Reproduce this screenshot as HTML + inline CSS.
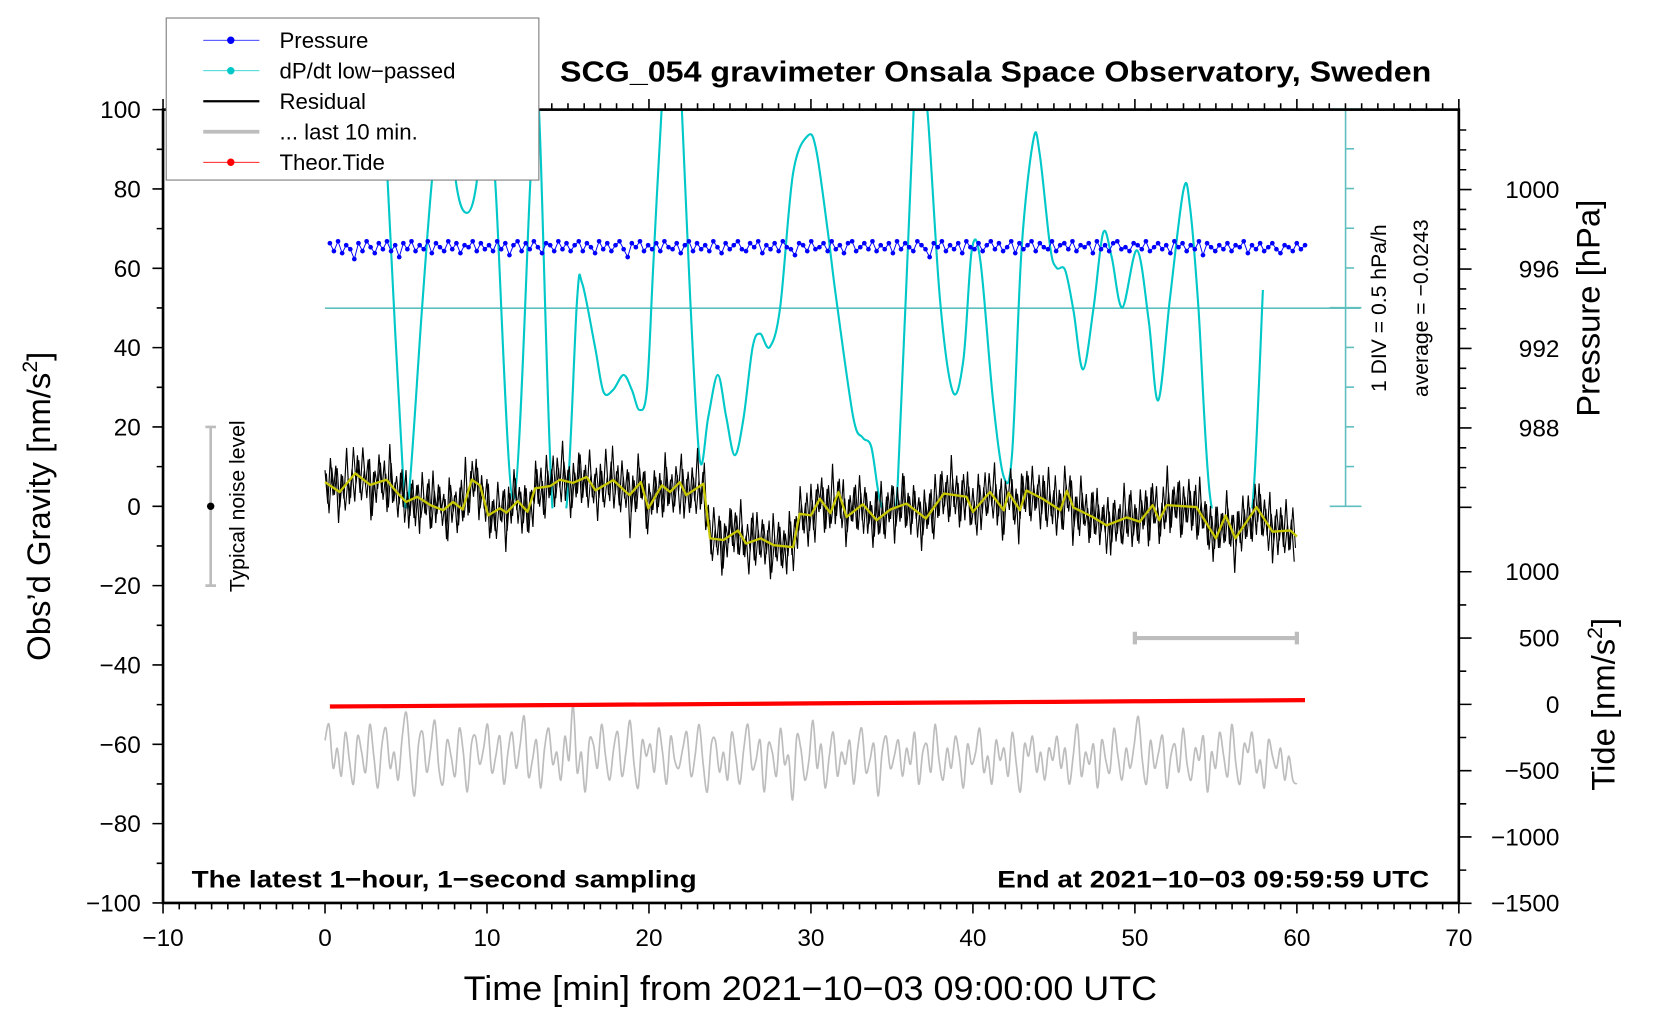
<!DOCTYPE html>
<html><head><meta charset="utf-8"><title>SCG_054 gravimeter</title>
<style>html,body{margin:0;padding:0;background:#fff;}svg{display:block;font-family:"Liberation Sans",Arial,sans-serif;}</style>
</head><body>
<svg id="chart" xmlns="http://www.w3.org/2000/svg" width="1660" height="1020" viewBox="0 0 1568 963" preserveAspectRatio="none">
<defs><clipPath id="cyclip"><rect x="154" y="103" width="1224" height="377"/></clipPath></defs>
<g id="grid"></g>
<g id="series"></g>
<g id="axes"></g>
</svg>
<script>
// ---- data ----
const xTicks = [-10,0,10,20,30,40,50,60,70];
const gTicks = [100,80,60,40,20,0,-20,-40,-60,-80,-100];
const pTicks = [1000,996,992,988];
const tideTicks = [1000,500,0,-500,-1000,-1500];
const cyanT = [3.86,4.84,5.16,5.95,6.6,7.39,8.1,8.76,9.35,9.87,10.5,11.63,12.68,13.0,13.27,14.05,14.9,15.56,15.88,16.67,17.19,17.78,18.43,18.95,19.41,19.87,20.26,20.78,21.1,21.76,22.03,22.55,23.14,23.66,24.25,24.77,25.29,25.82,26.4,26.86,27.45,28.1,28.89,29.8,30.33,31.05,31.57,32.61,33.2,33.73,34.25,34.84,35.36,36.34,36.73,37.19,37.97,38.76,39.41,39.93,40.46,41.24,41.9,42.42,43.0,43.73,44.12,44.77,45.16,45.69,46.21,46.8,47.45,48.04,48.56,49.22,50.13,50.85,51.44,52.16,53.0,53.4,53.92,54.64,55.75,56.7,57.32,57.9];
const cyanV = [1.61,-2.21,-2.39,-0.12,1.61,3.08,1.57,1.2,1.57,2.81,1.61,-2.41,1.61,2.81,2.2,-2.55,-2.51,0.11,0.31,-0.49,-1.05,-1.03,-0.84,-1.03,-1.28,-1.03,0.52,2.49,3.08,3.08,2.49,0.11,-1.91,-1.37,-0.84,-1.37,-1.85,-1.41,-0.49,-0.32,-0.49,0.01,1.69,2.17,1.99,0.95,0.11,-1.37,-1.63,-1.75,-2.41,-2.65,-2.2,2.49,3.08,2.49,0.11,-1.05,-0.65,0.73,0.6,-1.16,-2.12,-1.83,0.73,2.12,1.95,0.77,0.51,0.48,-0.03,-0.77,0.01,0.95,0.65,0.01,0.73,-0.15,-1.16,0.11,1.49,1.28,0.01,-2.37,-3.05,-3.05,-2.33,0.23];
const trendT = [0,0.9,1.86,2.8,3.8,4.5,5.0,5.7,6.5,7.3,7.9,8.5,9.06,9.57,10.08,10.8,11.2,11.9,12.5,12.97,13.9,14.5,15.3,16.16,16.7,17.8,18.8,19.5,19.96,20.8,21.3,21.9,22.3,23.36,23.77,24.6,25.5,26.0,26.9,27.7,28.9,29.3,30.0,30.55,31.2,31.7,32.2,33.2,34.05,34.9,35.9,37.1,38.2,39.6,40.0,41.05,41.9,42.2,42.9,43.3,44.3,45.4,45.8,46.2,47.4,48.25,49.5,50.3,51.1,51.5,51.96,53.8,55.0,55.6,56.2,57.5,58.5,59.6,60.0];
const trendV = [6.1,3.6,8.3,5.4,6.7,3.2,1.1,2.4,0.3,-1,1.1,-0.8,6.7,5.3,-2.3,-0.5,-1.6,1.3,-1.4,4.5,5.1,6.7,5.9,7.4,4.0,6.6,2.8,6.1,-0.5,5.3,3.6,6.1,2.8,5.7,-8.1,-8.5,-6.1,-9.4,-8.1,-9.8,-10.3,-1.9,-2.3,1.9,-1.7,3.6,-2.7,0.5,-3.5,-0.8,0.7,-3.1,3.2,2.4,-1.4,3.6,-1.0,3.4,-1.0,4.0,1.9,-1.0,3.9,-0.3,-2.7,-4.8,-2.8,-3.9,0.3,-3.5,0.3,-0.2,-8.1,-2.3,-8.1,-0.2,-6.4,-6.1,-7.6];
const residualNoise = [3,-5,7,-2,6,-8,4,-3,9,-6,2,-7,5,-4,8,-1,6,-9,3,-5,
7,-3,5,-8,10,-4,2,-6,6,-2,8,-7,4,-5,3,-9,7,-3,5,-6,
9,-4,6,-1,4,-8,7,-5,2,-7,5,-3,11,-6,3,-4,6,-9,4,-2,
8,-6,3,-5,7,-3,5,-10,6,-4,9,-2,4,-7,6,-5,3,-8,7,-4,
5,-7,8,-3,4,-6,6,-2,10,-5,3,-9,5,-4,7,-6,2,-5,8,-3,
4,-8,6,-4,9,-3,5,-7,3,-5,7,-2,6,-11,4,-6,8,-4,5,-7,
6,-3,7,-5,4,-8,9,-4,3,-6,5,-2,8,-7,4,-5,6,-3,10,-6,
3,-7,5,-4,8,-2,6,-9,4,-5,7,-3,5,-6,9,-4,2,-8,6,-5,
7,-4,5,-6,3,-9,8,-3,6,-5,4,-7,9,-2,5,-6,7,-4,3,-8,
8,-5,4,-3,6,-7,5,-4,11,-6,3,-5,7,-8,4,-2,6,-5,8,-4,
5,-6,3,-8,7,-4,9,-5,4,-3,6,-9,5,-4,8,-6,3,-7,6,-2,
4,-9,7,-3,5,-6,8,-4,6,-5,3,-7,10,-3,5,-8,4,-6,7,-5,
6,-4,8,-7,3,-5,5,-3,9,-6,4,-8,6,-2,7,-5,4,-9,8,-3,
5,-6,7,-4,3,-8,6,-5,9,-3,4,-7,5,-6,8,-4,6,-10,3,-5,
9,-3,5,-7,6,-4,8,-6,4,-2,7,-8,5,-5,3,-6,9,-4,6,-7,
4,-5,8,-3,6,-9,5,-4,7,-6,3,-5,10,-7,4,-3,6,-8,5,-4,
7,-6,4,-8,9,-3,5,-5,6,-7,8,-4,3,-6,7,-5,4,-9,6,-3,
8,-4,6,-6,3,-7,7,-5,5,-3,9,-8,4,-6,6,-4,8,-5,3,-7];
const last10V = [-59,-55,-66,-61,-68,-57,-64,-70,-58,-62,-67,-55,-63,-71,-60,-56,-66,-62,-69,-58,
-52,-64,-73,-60,-57,-67,-61,-54,-66,-70,-59,-63,-68,-56,-62,-72,-60,-58,-65,-61,
-55,-67,-63,-58,-70,-62,-57,-66,-60,-53,-68,-64,-59,-71,-61,-56,-65,-62,-69,-58,
-64,-50,-67,-62,-72,-59,-60,-66,-55,-63,-69,-61,-57,-68,-62,-54,-65,-71,-59,-63,
-60,-67,-56,-62,-70,-58,-64,-66,-61,-57,-68,-63,-55,-65,-72,-60,-59,-67,-62,-69,
-57,-63,-70,-61,-55,-66,-64,-59,-72,-60,-62,-68,-56,-65,-63,-74,-58,-61,-69,-64,
-54,-66,-60,-71,-63,-57,-68,-62,-65,-59,-70,-61,-56,-67,-64,-60,-73,-62,-58,-66,
-63,-59,-68,-61,-65,-57,-70,-62,-60,-67,-55,-64,-69,-61,-66,-58,-63,-71,-60,-65,
-62,-56,-67,-63,-70,-59,-64,-61,-68,-57,-65,-72,-60,-63,-58,-67,-62,-69,-61,-64,
-58,-66,-61,-70,-63,-55,-68,-62,-65,-60,-71,-59,-64,-67,-56,-63,-69,-61,-66,-60,
-53,-64,-70,-59,-66,-62,-58,-71,-63,-60,-67,-56,-65,-69,-61,-64,-58,-72,-62,-66,
-57,-63,-68,-55,-65,-70,-60,-62,-57,-67,-64,-71,-59,-63,-66,-61,-69,-63,-69,-70];
const pressureV = [997.3,996.9,997.4,996.8,997.2,997.0,996.5,997.3,996.9,997.4,997.1,996.8,997.3,997.0,997.4,996.9,997.2,996.6,997.3,997.0,
997.4,996.9,997.2,997.0,997.4,996.8,997.3,997.1,996.9,997.4,997.0,997.3,996.8,997.2,997.1,997.4,996.9,997.3,997.0,997.2,
996.9,997.4,997.0,997.3,996.7,997.2,997.4,996.9,997.3,997.0,997.4,997.1,996.8,997.3,997.2,996.9,997.4,997.0,997.3,996.9,
997.2,997.4,996.9,997.3,997.1,996.8,997.4,997.0,997.3,996.9,997.2,997.4,997.0,996.6,997.3,997.1,997.4,996.9,997.2,997.0,
997.3,996.9,997.4,997.1,997.0,997.3,996.8,997.2,997.4,996.9,997.3,997.0,997.2,996.9,997.4,997.1,996.8,997.3,997.0,997.2,
997.4,997.0,996.9,997.3,997.1,997.4,996.8,997.2,997.0,997.3,996.9,997.4,997.1,997.0,996.7,997.3,997.2,996.9,997.4,997.0,
997.1,997.3,996.9,997.4,997.0,997.2,996.8,997.3,997.4,996.9,997.1,997.3,997.0,997.4,996.9,997.2,997.0,997.3,996.8,997.4,
997.0,997.3,997.1,996.9,997.4,997.2,997.0,996.6,997.3,997.1,997.4,996.9,997.2,997.0,997.3,996.8,997.4,997.1,997.0,997.3,
996.9,997.2,997.4,997.0,997.3,996.9,997.1,997.4,996.8,997.3,997.0,997.2,997.4,996.9,997.3,997.1,997.0,997.4,996.9,997.2,
997.3,997.0,997.4,996.9,997.2,997.1,997.3,996.8,997.4,997.0,997.2,996.9,997.3,997.4,997.0,997.1,996.9,997.3,997.2,997.0,
997.4,996.9,997.1,997.3,997.0,997.2,996.8,997.4,997.1,997.3,996.9,997.2,997.0,997.4,996.7,997.3,997.1,996.9,997.2,997.0,
997.3,996.9,997.2,997.1,997.4,996.8,997.2,997.0,997.3,996.9,997.1,997.3,997.0,996.8,997.2,997.1,996.9,997.3,997.0,997.2];
const tideT = [0.3,5,10,15,20,25,30,35,40,45,50,55,60.5];
const tideV = [-16,-13,-9,-5,-1,3,7,11,15,19,23,27,32];

// ---- scales ----
const X = t => 154 + (t + 10) * 15.3;
const Y = g => 478 - g * 3.745;
const P = p => 179 + (1000 - p) * 18.75;
const TD = v => 665 - v * 0.1252;
const CY = v => 291 - v * 75;
const NS = 'http://www.w3.org/2000/svg';
function mk(tag, attrs, parent) {
  const e = document.createElementNS(NS, tag);
  for (const k in attrs) e.setAttribute(k, attrs[k]);
  parent.appendChild(e);
  return e;
}
function interp(ts, vs, t) {
  if (t <= ts[0]) return vs[0];
  for (let i = 1; i < ts.length; i++) if (t <= ts[i]) { const f = (t - ts[i-1]) / (ts[i] - ts[i-1]); return vs[i-1] + f * (vs[i] - vs[i-1]); }
  return vs[vs.length - 1];
}
function smoothPath(pts) {
  let s = 'M' + pts[0][0].toFixed(1) + ' ' + pts[0][1].toFixed(1);
  for (let i = 0; i < pts.length - 1; i++) {
    const p0 = pts[Math.max(0, i - 1)], p1 = pts[i], p2 = pts[i + 1], p3 = pts[Math.min(pts.length - 1, i + 2)];
    const c1x = p1[0] + (p2[0] - p0[0]) / 6, c1y = p1[1] + (p2[1] - p0[1]) / 6;
    const c2x = p2[0] - (p3[0] - p1[0]) / 6, c2y = p2[1] - (p3[1] - p1[1]) / 6;
    s += ' C' + c1x.toFixed(1) + ' ' + c1y.toFixed(1) + ' ' + c2x.toFixed(1) + ' ' + c2y.toFixed(1) + ' ' + p2[0].toFixed(1) + ' ' + p2[1].toFixed(1);
  }
  return s;
}
const series = document.getElementById('series');
const axes = document.getElementById('axes');

// cyan reference line & scale bar
let el = mk('line', {x1:307, y1:291, x2:1285, y2:291, stroke:'#5fbfbf', 'stroke-width':1.5}, series);


el = mk('line', {x1:1271, y1:103, x2:1271, y2:478, stroke:'#5fbfbf', 'stroke-width':1.5}, series);


for (let i = 0; i <= 10; i++) {
  const yy = 103 + i * 37.5;
  const big = (i === 0 || i === 5 || i === 10);
  el = mk('line', {x1: big ? 1256 : 1271, y1: yy, x2: big ? 1286 : 1279, y2: yy, stroke:'#5fbfbf', 'stroke-width':1.5}, series);
  
  
}

// cyan dP/dt
let d = smoothPath(cyanT.map((t, i) => [X(t), CY(cyanV[i])]));
el = mk('path', {d: d, fill:'none', stroke:'#00c8c8', 'stroke-width':2, 'clip-path':'url(#cyclip)', 'stroke-linejoin':'round'}, series);



// pressure
const pg = mk('g', {fill:'#0000ff'}, series);


const pStep = (60.5 - 0.3) / (pressureV.length - 1);
d = pressureV.map((p, i) => (i ? 'L' : 'M') + X(0.3 + i * pStep).toFixed(1) + ' ' + P(p).toFixed(1)).join(' ');
el = mk('path', {d: d, fill:'none', stroke:'#0000ff', 'stroke-width':0.9}, pg);


pressureV.forEach((p, i) => {
  const c = mk('circle', {cx: X(0.3 + i * pStep).toFixed(1), cy: P(p).toFixed(1), r: 2.2}, pg);
  
  
});

// residual black (two interleaved passes for density)
const rStep = 60 / residualNoise.length;
const nN = residualNoise.length;
d = residualNoise.map((n, i) => { const t = i * rStep; return (i ? 'L' : 'M') + X(t).toFixed(1) + ' ' + Y(interp(trendT, trendV, t) + n).toFixed(1); }).join(' ');
el = mk('path', {d: d, fill:'none', stroke:'#000', 'stroke-width':1.1}, series);


d = residualNoise.map((n, i) => { const t = (i + 0.5) * rStep; return (i ? 'L' : 'M') + X(Math.min(t, 60)).toFixed(1) + ' ' + Y(interp(trendT, trendV, t) - 0.8 * residualNoise[(i + 7) % nN]).toFixed(1); }).join(' ');
el = mk('path', {d: d, fill:'none', stroke:'#000', 'stroke-width':1}, series);


// trend yellow
d = trendT.map((t, i) => (i ? 'L' : 'M') + X(t).toFixed(1) + ' ' + Y(trendV[i]).toFixed(1)).join(' ');
el = mk('path', {d: d, fill:'none', stroke:'#c8c800', 'stroke-width':2.2, 'stroke-linejoin':'round'}, series);



// last 10 min gray
const gStep = 60 / (last10V.length - 1);
d = smoothPath(last10V.map((v, i) => [X(i * gStep), Y(v)]));
el = mk('path', {d: d, fill:'none', stroke:'#bdbdbd', 'stroke-width':1.6}, series);



// tide red
d = tideT.map((t, i) => (i ? 'L' : 'M') + X(t).toFixed(1) + ' ' + TD(tideV[i]).toFixed(1)).join(' ');
el = mk('path', {d: d, fill:'none', stroke:'#ff0000', 'stroke-width':4}, series);



// last-10-min span indicator
el = mk('path', {d:'M'+X(50)+' '+TD(500)+' H'+X(60)+' M'+X(50)+' '+(TD(500)-6)+' v12 M'+X(60)+' '+(TD(500)-6)+' v12', stroke:'#bdbdbd', 'stroke-width':4, fill:'none'}, series);



// noise level indicator
el = mk('path', {d:'M199 '+Y(20)+' V'+Y(-20)+' M194 '+Y(20)+' h10 M194 '+Y(-20)+' h10', stroke:'#bdbdbd', 'stroke-width':2.5, fill:'none'}, series);


el = mk('circle', {cx:199, cy:Y(0), r:3.5, fill:'#000'}, series);



// ---- axes ----
el = mk('rect', {x:154, y:103.5, width:1224, height:749, fill:'none', stroke:'#000', 'stroke-width':2.5}, axes);


function txt(x, y, s, attrs, name) {
  const t = mk('text', Object.assign({x:x, y:y}, attrs), axes);
  t.textContent = s;
  
  
  return t;
}
let tk = '';
for (let t = -10; t <= 70; t++) {
  const big = t % 10 === 0, L = big ? 10 : 6;
  tk += 'M' + X(t) + ' 852.5 v' + L + ' M' + X(t) + ' 103.5 v-' + L + ' ';
}
for (let g = -100; g <= 100; g += 10) { const L = g % 20 === 0 ? 10 : 6; tk += 'M154 ' + Y(g) + ' h-' + L + ' '; }
for (let p = 1003; p >= 983; p--) { const yy = P(p); if (yy < 103 || yy > 480) continue; const L = p % 4 === 0 ? 12 : 7; tk += 'M1378 ' + yy + ' h' + L + ' '; }
for (let v = 1000; v >= -1500; v -= 250) { const L = v % 500 === 0 ? 12 : 7; tk += 'M1378 ' + TD(v) + ' h' + L + ' '; }
el = mk('path', {d: tk, stroke:'#000', 'stroke-width':1.5, fill:'none'}, axes);


const f22 = {'font-size':23, fill:'#000'};
xTicks.forEach(t => txt(X(t), 893, (t < 0 ? '\u2212' + (-t) : t), Object.assign({'text-anchor':'middle'}, f22), 'x-tick-label'));
gTicks.forEach(g => txt(133, Y(g) + 8, (g < 0 ? '\u2212' + (-g) : g), Object.assign({'text-anchor':'end'}, f22), 'y-tick-label'));
pTicks.forEach(p => txt(1473, P(p) + 8, p, Object.assign({'text-anchor':'end'}, f22), 'pressure-tick-label'));
tideTicks.forEach(v => txt(1473, TD(v) + 8, (v < 0 ? '\u2212' + (-v) : v), Object.assign({'text-anchor':'end'}, f22), 'tide-tick-label'));

txt(438, 944, 'Time [min] from 2021\u221210\u221203 09:00:00 UTC', {'font-size':32, textLength:655, lengthAdjust:'spacingAndGlyphs'}, 'x-axis-title');
let tt = txt(0, 0, '', {'font-size':31, 'text-anchor':'middle', transform:'translate(47,478) rotate(-90)'}, 'y-axis-title');
tt.innerHTML = 'Obs\u2019d Gravity [nm/s<tspan dy="-12" font-size="20">2</tspan><tspan dy="12">]</tspan>';
txt(0, 0, 'Pressure [hPa]', {'font-size':31, 'text-anchor':'middle', transform:'translate(1511,291) rotate(-90)'}, 'pressure-axis-title');
tt = txt(0, 0, '', {'font-size':31, 'text-anchor':'middle', transform:'translate(1525,665) rotate(-90)'}, 'tide-axis-title');
tt.innerHTML = 'Tide [nm/s<tspan dy="-12" font-size="20">2</tspan><tspan dy="12">]</tspan>';
txt(0, 0, '1 DIV = 0.5 hPa/h', {'font-size':20, 'text-anchor':'middle', transform:'translate(1309,291) rotate(-90)'}, 'dpdt-scale-label');
txt(0, 0, 'average = \u22120.0243', {'font-size':20, 'text-anchor':'middle', transform:'translate(1349,291) rotate(-90)'}, 'dpdt-average-label');
txt(0, 0, 'Typical noise level', {'font-size':20, 'text-anchor':'middle', transform:'translate(231,478) rotate(-90)'}, 'noise-level-label');
txt(529, 77, 'SCG_054 gravimeter Onsala Space Observatory, Sweden', {'font-size':27, 'font-weight':'bold', textLength:823, lengthAdjust:'spacingAndGlyphs'}, 'chart-title');
txt(181, 838, 'The latest 1\u2212hour, 1\u2212second sampling', {'font-size':23, 'font-weight':'bold', textLength:477, lengthAdjust:'spacingAndGlyphs'}, 'sampling-note');
txt(942, 838, 'End at 2021\u221210\u221203 09:59:59 UTC', {'font-size':23, 'font-weight':'bold', textLength:408, lengthAdjust:'spacingAndGlyphs'}, 'end-time-note');

// ---- legend ----
const lg = mk('g', {}, axes);


el = mk('rect', {x:157, y:17, width:352, height:153, fill:'#fff', stroke:'#777', 'stroke-width':1}, lg);


const legNames = ['Pressure', 'dP/dt low\u2212passed', 'Residual', '... last 10 min.', 'Theor.Tide'];
const legColors = ['#0000ff', '#00c8c8', '#000', '#bdbdbd', '#ff0000'];
const legW = [0.8, 0.8, 2.2, 3.5, 0.8];
const legDot = [true, true, false, false, true];
legNames.forEach((n, i) => {
  const yy = 38 + i * 28.8;
  const e1 = mk('line', {x1:192, y1:yy, x2:245, y2:yy, stroke:legColors[i], 'stroke-width':legW[i]}, lg);
  
  
  if (legDot[i]) {
    const c = mk('circle', {cx:218, cy:yy, r:3.5, fill:legColors[i]}, lg);
    
    
  }
  const t = mk('text', {x:264, y:yy + 7.5, 'font-size':21, fill:'#000'}, lg);
  t.textContent = n;
  
  
});
</script>
</body></html>
